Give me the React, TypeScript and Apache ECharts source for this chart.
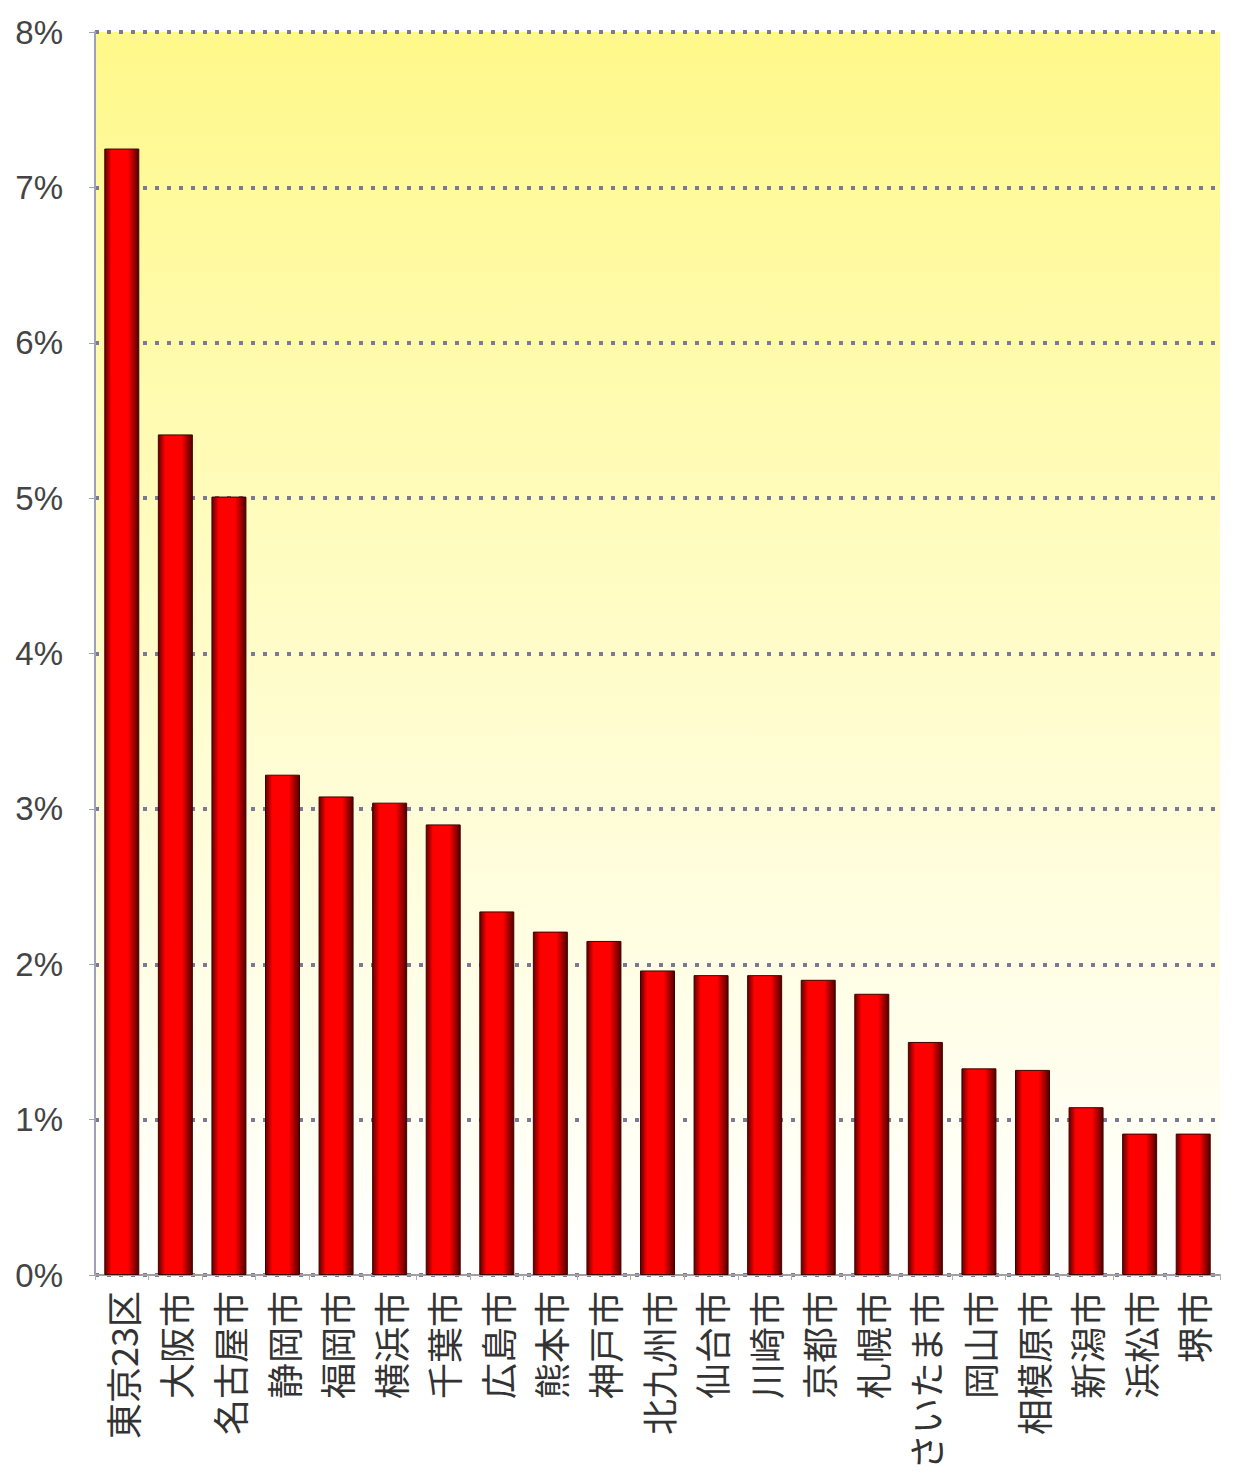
import React, { useEffect, useRef } from "react";
import * as echarts from "echarts";

const categories = [
  "東京23区", "大阪市", "名古屋市", "静岡市", "福岡市", "横浜市", "千葉市",
  "広島市", "熊本市", "神戸市", "北九州市", "仙台市", "川崎市", "京都市",
  "札幌市", "さいたま市", "岡山市", "相模原市", "新潟市", "浜松市", "堺市",
];
const values = [
  7.25, 5.41, 5.01, 3.22, 3.08, 3.04, 2.9,
  2.34, 2.21, 2.15, 1.96, 1.93, 1.93, 1.9,
  1.81, 1.5, 1.33, 1.32, 1.08, 0.91, 0.91,
];
const yTicks = [0, 1, 2, 3, 4, 5, 6, 7, 8];

export default function App() {
  const ref = useRef<HTMLDivElement>(null);
  useEffect(() => {
    document.body.style.margin = "0";
    const chart = echarts.init(ref.current!, null, { renderer: "svg" });
    chart.setOption({
      animation: false,
      backgroundColor: "#ffffff",
      grid: {
        left: 95,
        right: 20,
        top: 32,
        bottom: 203,
        show: true,
        borderWidth: 0,
        backgroundColor: new echarts.graphic.LinearGradient(0, 0, 0, 1, [
          { offset: 0, color: "#fff98a" },
          { offset: 0.45, color: "#fffcc4" },
          { offset: 1, color: "#ffffff" },
        ]),
      },
      xAxis: {
        type: "category",
        data: categories,
        axisLine: { show: true, lineStyle: { color: "#a0a0a0", width: 2 } },
        axisTick: { show: true, length: 5, lineStyle: { color: "#b0b0b0" } },
        axisLabel: {
          rotate: 90,
          margin: 16,
          color: "#333333",
          fontSize: 36,
          fontFamily: "Noto Sans CJK JP",
          interval: 0,
        },
      },
      yAxis: {
        type: "value",
        min: yTicks[0],
        max: yTicks[yTicks.length - 1],
        interval: 1,
        axisLine: { show: true, lineStyle: { color: "#a0a0b8", width: 2 } },
        axisTick: { show: true, length: 6, lineStyle: { color: "#a0a0b8" } },
        axisLabel: {
          formatter: (v: number) => `${v}%`,
          color: "#444444",
          fontSize: 33,
          fontFamily: "Liberation Sans",
          margin: 32,
        },
        splitLine: {
          show: true,
          lineStyle: { color: "#7a7a98", width: 4, type: [4, 8] },
        },
      },
      series: [
        {
          type: "bar",
          data: values,
          barWidth: 35,
          itemStyle: {
            color: new echarts.graphic.LinearGradient(0, 0, 1, 0, [
              { offset: 0, color: "#600000" },
              { offset: 0.2, color: "#ff0000" },
              { offset: 0.68, color: "#ff0000" },
              { offset: 1, color: "#500000" },
            ]),
            borderColor: "#400000",
            borderWidth: 1,
          },
        },
      ],
    });
    return () => chart.dispose();
  }, []);
  return <div ref={ref} style={{ width: 1240, height: 1478 }} />;
}
